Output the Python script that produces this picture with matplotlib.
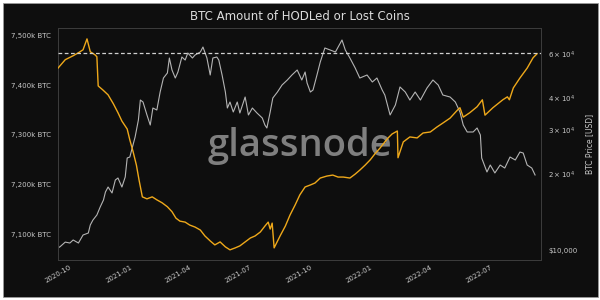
import matplotlib
matplotlib.use("Agg")
import matplotlib.pyplot as plt
import matplotlib.dates as mdates
import matplotlib.ticker as mticker
from matplotlib.patches import Rectangle
import numpy as np
import pandas as pd

TITLE = "BTC Amount of HODLed or Lost Coins"
RIGHT_LABEL = "BTC Price [USD]"
WATERMARK = "glassnode"

# HODLed or Lost coins (thousand BTC)
hodl_dates = [
    "2020-09-09", "2020-09-20", "2020-10-02", "2020-10-10", "2020-10-17", "2020-10-23",
    "2020-10-28", "2020-11-04", "2020-11-07", "2020-11-09", "2020-11-16", "2020-11-24",
    "2020-12-02", "2020-12-09", "2020-12-15", "2020-12-23", "2020-12-27", "2021-01-01",
    "2021-01-06", "2021-01-10", "2021-01-15", "2021-01-22", "2021-01-30", "2021-02-06",
    "2021-02-14", "2021-02-22", "2021-03-01", "2021-03-07", "2021-03-13", "2021-03-21",
    "2021-03-28", "2021-04-05", "2021-04-13", "2021-04-20", "2021-04-28", "2021-05-05",
    "2021-05-13", "2021-05-21", "2021-05-28", "2021-06-05", "2021-06-12", "2021-06-20",
    "2021-06-28", "2021-07-05", "2021-07-13", "2021-07-20", "2021-07-25", "2021-07-28",
    "2021-07-31", "2021-08-03", "2021-08-12", "2021-08-20", "2021-08-27", "2021-09-04",
    "2021-09-11", "2021-09-19", "2021-09-27", "2021-10-04", "2021-10-12", "2021-10-22",
    "2021-10-31", "2021-11-08", "2021-11-16", "2021-11-26", "2021-12-04", "2021-12-11",
    "2021-12-19", "2021-12-27", "2022-01-03", "2022-01-11", "2022-01-18", "2022-01-23",
    "2022-01-29", "2022-02-06", "2022-02-07", "2022-02-15", "2022-02-25", "2022-03-08",
    "2022-03-17", "2022-03-28", "2022-04-07", "2022-04-16", "2022-04-27", "2022-05-08",
    "2022-05-12", "2022-05-17", "2022-05-27", "2022-06-07", "2022-06-15", "2022-06-19",
    "2022-07-01", "2022-07-16", "2022-07-23", "2022-07-26", "2022-08-01", "2022-08-11",
    "2022-08-22", "2022-08-31", "2022-09-06",
]
hodl_values = [
    7435, 7452, 7460, 7466, 7472, 7494,
    7468, 7462, 7458, 7399, 7391, 7381,
    7363, 7345, 7328, 7312, 7290, 7266,
    7239, 7209, 7175, 7171, 7175, 7169,
    7163, 7155, 7145, 7132, 7126, 7124,
    7118, 7114, 7108, 7096, 7086, 7078,
    7084, 7074, 7068, 7072, 7076, 7084,
    7092, 7096, 7104, 7116, 7124, 7110,
    7122, 7072, 7096, 7116, 7138, 7159,
    7179, 7195, 7199, 7203, 7213, 7217,
    7219, 7215, 7215, 7213, 7221, 7229,
    7239, 7250, 7262, 7274, 7286, 7294,
    7302, 7308, 7254, 7286, 7296, 7294,
    7304, 7306, 7316, 7324, 7334, 7350,
    7355, 7336, 7345, 7357, 7371, 7340,
    7355, 7371, 7377, 7371, 7395, 7415,
    7435, 7456, 7464,
]

# BTC price (USD)
price_dates = [
    "2020-09-09", "2020-09-12", "2020-09-20", "2020-09-27", "2020-10-02", "2020-10-10",
    "2020-10-17", "2020-10-25", "2020-10-28", "2020-11-01", "2020-11-07", "2020-11-12",
    "2020-11-17", "2020-11-20", "2020-11-24", "2020-11-30", "2020-12-05", "2020-12-09",
    "2020-12-15", "2020-12-20", "2020-12-23", "2020-12-27", "2021-01-04", "2021-01-09",
    "2021-01-12", "2021-01-16", "2021-01-22", "2021-01-27", "2021-01-31", "2021-02-06",
    "2021-02-11", "2021-02-16", "2021-02-22", "2021-02-25", "2021-03-01", "2021-03-06",
    "2021-03-10", "2021-03-16", "2021-03-21", "2021-03-25", "2021-04-01", "2021-04-05",
    "2021-04-13", "2021-04-17", "2021-04-23", "2021-04-28", "2021-05-02", "2021-05-08",
    "2021-05-11", "2021-05-16", "2021-05-21", "2021-05-24", "2021-05-28", "2021-06-02",
    "2021-06-08", "2021-06-12", "2021-06-20", "2021-06-25", "2021-07-01", "2021-07-08",
    "2021-07-16", "2021-07-20", "2021-07-23", "2021-07-28", "2021-08-01", "2021-08-08",
    "2021-08-15", "2021-08-23", "2021-08-30", "2021-09-07", "2021-09-14", "2021-09-19",
    "2021-09-22", "2021-09-27", "2021-10-01", "2021-10-07", "2021-10-12", "2021-10-19",
    "2021-10-27", "2021-11-04", "2021-11-14", "2021-11-19", "2021-11-26", "2021-12-04",
    "2021-12-11", "2021-12-22", "2021-12-30", "2022-01-06", "2022-01-14", "2022-01-18",
    "2022-01-26", "2022-02-03", "2022-02-10", "2022-02-18", "2022-02-25", "2022-03-05",
    "2022-03-13", "2022-03-23", "2022-04-01", "2022-04-09", "2022-04-16", "2022-04-27",
    "2022-05-05", "2022-05-12", "2022-05-17", "2022-05-23", "2022-06-01", "2022-06-07",
    "2022-06-12", "2022-06-14", "2022-06-22", "2022-06-27", "2022-07-04", "2022-07-12",
    "2022-07-19", "2022-07-27", "2022-08-04", "2022-08-11", "2022-08-16", "2022-08-22",
    "2022-08-29", "2022-09-03",
]
price_values = [
    10200, 10300, 10750, 10660, 10960, 10660,
    11470, 11680, 12570, 13150, 13770, 14810,
    15790, 16990, 17780, 16840, 18960, 19310,
    17780, 19490, 23180, 23390, 28080, 32810,
    39370, 38660, 34340, 31330, 36600, 35940,
    42360, 48140, 50400, 57800, 51800, 48140,
    50860, 58330, 56750, 60500, 57800, 59400,
    61060, 63900, 57800, 49480, 57800, 58330,
    56750, 49480, 42360, 36600, 38660, 35290,
    38660, 34970, 40470, 34340, 36600, 34970,
    33410, 31330, 30490, 35290, 40100, 42360,
    45160, 47270, 49480, 51800, 47270, 50860,
    45990, 42360, 43140, 49480, 55720, 63340,
    62190, 61060, 68130, 62190, 57800, 52760,
    48140, 49480, 46420, 48140, 43140, 41220,
    34340, 37620, 44360, 42360, 39370, 42360,
    39370, 43950, 47270, 45160, 41220, 40470,
    38660, 35290, 31330, 29400, 29400, 30490,
    28600, 23180, 20400, 21740, 20220, 21740,
    21150, 23390, 22760, 24480, 24260, 21740,
    21150, 19850,
]

DASH_LEVEL = 7466
left_ticks = [7100, 7200, 7300, 7400, 7500]
right_major = [10000]
right_minor = [20000, 30000, 40000, 60000]
x_ticks = ["2020-10-01", "2021-01-01", "2021-04-01", "2021-07-01", "2021-10-01",
           "2022-01-01", "2022-04-01", "2022-07-01"]

BG = "#0e0e0e"
ORANGE = "#eea81a"
GREY = "#b4b4b4"
TXT = "#c8c8c8"

fig = plt.figure(figsize=(6, 3), dpi=100)
fig.patch.set_facecolor("white")
fig.add_artist(Rectangle((3 / 600, 3 / 300), 595 / 600, 294 / 300,
                         transform=fig.transFigure, facecolor=BG,
                         edgecolor="#9a9a9a", lw=0.6, zorder=-10))

ax = fig.add_axes([58 / 600, 40 / 300, 483 / 600, 232 / 300])
ax2 = ax.twinx()
ax.set_zorder(ax2.get_zorder() + 1)
ax.patch.set_visible(False)
ax2.patch.set_visible(False)

hd = pd.to_datetime(hodl_dates)
pdts = pd.to_datetime(price_dates)

ax2.plot(pdts, price_values, color=GREY, lw=0.8, zorder=2)
ax2.set_yscale("log")
ax2.set_ylim(9128, 76030)
ax2.yaxis.set_major_locator(mticker.FixedLocator(right_major))
ax2.yaxis.set_major_formatter(mticker.FuncFormatter(lambda v, p: "${:,.0f}".format(v)))
ax2.yaxis.set_minor_locator(mticker.FixedLocator(right_minor))
ax2.yaxis.set_minor_formatter(mticker.FuncFormatter(
    lambda v, p: r"$%d\times10^{%d}$" % (round(v / 10 ** int(np.log10(v))), int(np.log10(v)))))
ax2.tick_params(axis="y", which="both", length=0, pad=5, labelsize=5, colors=TXT)
ax2.set_ylabel(RIGHT_LABEL, color=TXT, fontsize=5.5, labelpad=6)

ax2.text(0.5, 0.49, WATERMARK, transform=ax2.transAxes, ha="center", va="center",
         fontsize=27.5, color="#8c8c8c", alpha=0.9, family="Open Sans",
         fontweight="semibold", zorder=0)

ax.plot(hd, hodl_values, color=ORANGE, lw=1.0, zorder=3)
ax.axhline(DASH_LEVEL, color="#d0d0d0", lw=0.9, ls=(0, (3, 2)), zorder=4)
ax.set_ylim(7047.5, 7516)
ax.set_yticks(left_ticks)
ax.yaxis.set_major_formatter(mticker.FuncFormatter(lambda v, p: "{:,.0f}k BTC".format(v)))
ax.set_xlim(pd.Timestamp("2020-09-09"), pd.Timestamp("2022-09-12"))
ax.set_xticks(pd.to_datetime(x_ticks))
ax.xaxis.set_major_formatter(mdates.DateFormatter("%Y-%m"))
ax.tick_params(axis="y", length=0, pad=5, labelsize=5, colors=TXT)
ax.tick_params(axis="x", length=0, pad=3, labelsize=5, colors=TXT)
for lbl in ax.get_xticklabels():
    lbl.set_rotation(30)
    lbl.set_ha("right")

for a in (ax, ax2):
    for s in a.spines.values():
        s.set_color("#3c3c3c")
        s.set_linewidth(0.7)

fig.text(0.5, 1 - 17 / 300, TITLE, ha="center", va="center", color="#dcdcdc", fontsize=8.5)

fig.savefig("out.png", dpi=100, facecolor=fig.get_facecolor())
